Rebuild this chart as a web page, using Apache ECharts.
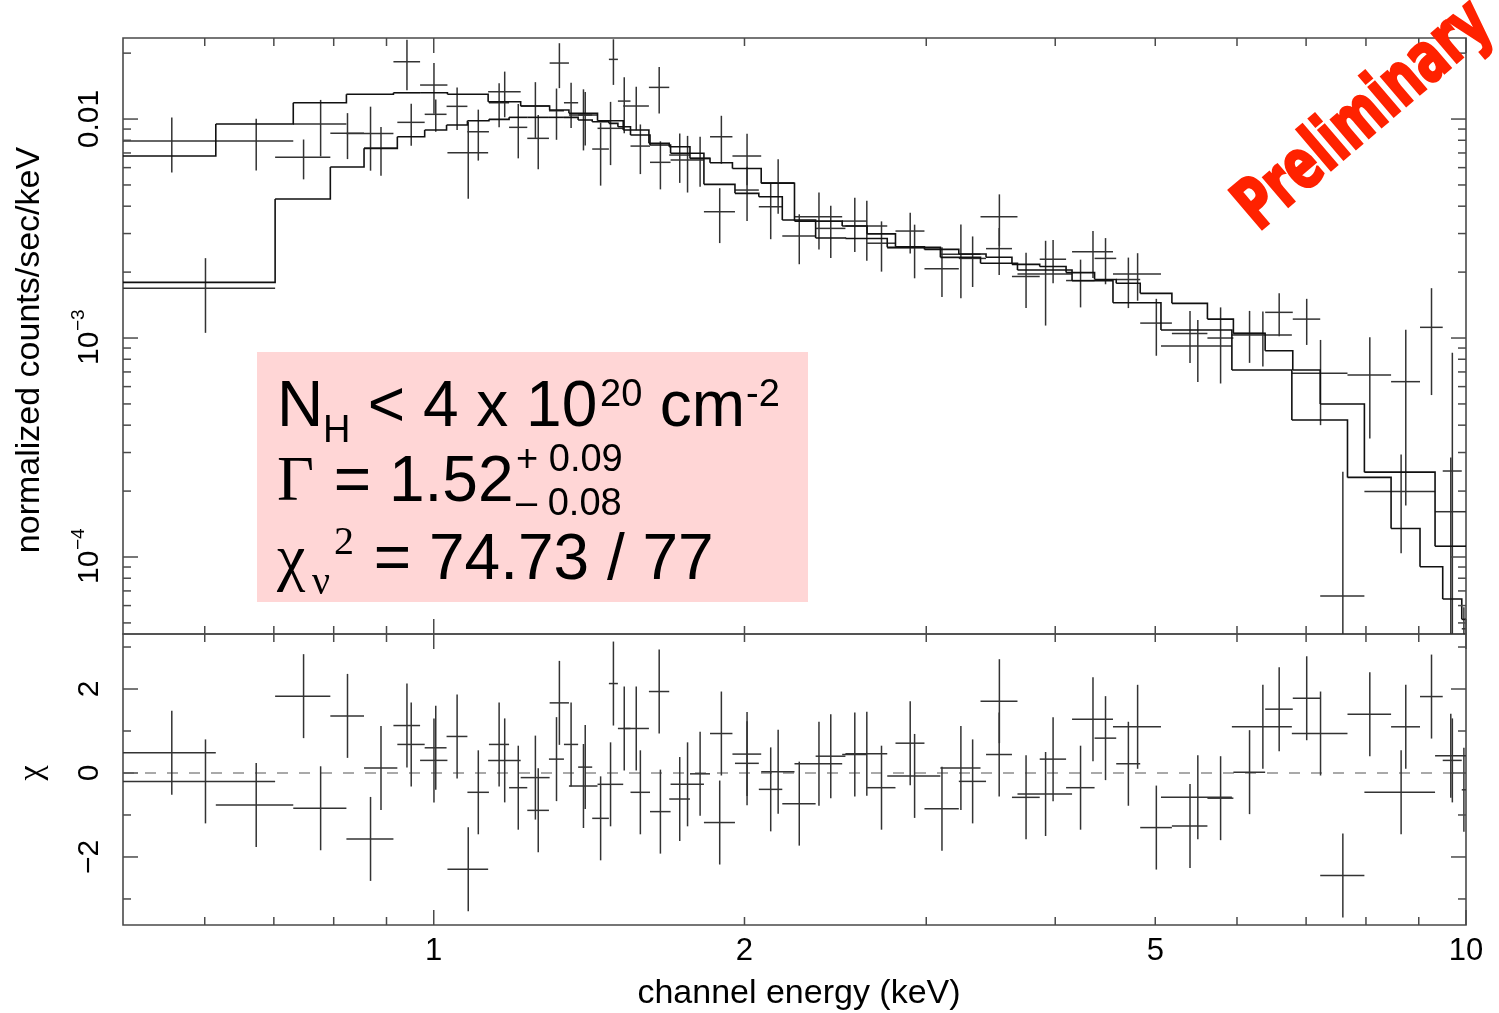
<!DOCTYPE html>
<html>
<head>
<meta charset="utf-8">
<script src="https://cdn.jsdelivr.net/npm/echarts/dist/echarts.min.js"></script>
<style>
html,body{margin:0;padding:0;background:#ffffff;}
#chart{width:1499px;height:1013px;}
</style>
</head>
<body>
<div id="chart"></div>
<script>
// ===== Data (energies in keV) =====
// Dataset A: bin edges, data (normalized counts/sec/keV), 1-sigma errors, model, residuals (chi)
const edgesA = [0.500,0.615,0.731,0.823,0.914,0.970,1.031,1.129,1.214,1.295,1.352,1.441,1.526,1.616,1.691,1.771,1.852,1.947,2.076,2.236,2.487,2.629,2.801,2.988,3.226,3.428,3.632,3.864,4.098,4.367,4.583,4.835,5.189,5.617,5.952,6.389,6.795,7.224,7.972,9.333,10.0];
const countsA = [0.00793,0.00793,0.00949,0.00860,0.01827,0.01430,0.00702,0.01333,0.01147,0.01802,0.01043,0.00907,0.01147,0.01395,0.00685,0.00661,0.00830,0.00678,0.00512,0.00358,0.00342,0.00271,0.00308,0.00207,0.00231,0.00256,0.00191,0.00229,0.00183,0.00231,0.00185,0.00117,0.00105,0.00100,0.00105,0.00131,0.00122,0.0000664,0.000199,0.000161];
const sigmaA = [0.00223,0.00211,0.00274,0.00279,0.00473,0.00373,0.00270,0.00314,0.00327,0.00418,0.00324,0.00291,0.00257,0.00334,0.00174,0.00170,0.00205,0.00179,0.00143,0.00104,0.00095,0.00070,0.00065,0.00053,0.00060,0.00062,0.00054,0.00051,0.00045,0.00055,0.00048,0.00034,0.00028,0.00038,0.00028,0.00029,0.00029,0.000179,0.000095,0.000124];
const modelA = [0.00678,0.00949,0.01187,0.01297,0.01318,0.01318,0.01297,0.01199,0.01147,0.01099,0.01062,0.00982,0.00891,0.00775,0.00747,0.00661,0.00632,0.00595,0.00509,0.00342,0.00325,0.00299,0.00261,0.00254,0.00242,0.00234,0.00217,0.00212,0.00199,0.00185,0.00178,0.00160,0.00144,0.00122,0.00105,0.000875,0.000714,0.000500,0.000244,0.000112];
const chiA = [0.48,-0.76,-0.84,-1.57,1.13,0.30,-2.29,0.30,-0.11,1.67,-0.31,-0.27,1.06,1.94,-0.62,-0.02,0.94,0.45,0.03,0.22,0.44,-0.35,0.71,-0.85,-0.20,0.44,-0.58,0.33,-0.35,0.83,0.22,-1.30,-1.26,-0.60,0.02,1.52,1.78,-2.44,-0.46,0.41];

// Dataset B
const edgesB = [0.500,0.702,0.794,0.856,0.922,0.980,1.029,1.078,1.131,1.183,1.232,1.293,1.337,1.380,1.424,1.478,1.508,1.551,1.620,1.696,1.827,1.958,2.065,2.176,2.344,2.505,2.750,3.096,3.386,3.677,4.153,4.550,5.064,5.932,6.781,7.677,8.461,9.025,9.494,9.906,10.0];
const countsB = [0.001686,0.006684,0.008603,0.007349,0.009659,0.01051,0.01143,0.008750,0.01187,0.009165,0.008164,0.01091,0.01187,0.01043,0.007295,0.01873,0.01208,0.007526,0.006344,0.006498,0.003774,0.004740,0.003977,0.002923,0.003167,0.003245,0.002584,0.002410,0.003580,0.001960,0.002478,0.001960,0.000919,0.001032,0.000690,0.000678,0.000632,0.001119,0.000247,0.000047];
const sigmaB = [0.00063,0.00138,0.00204,0.00184,0.00210,0.00176,0.00252,0.00229,0.00269,0.00255,0.00226,0.00287,0.00277,0.00285,0.00233,0.00441,0.00346,0.00192,0.00157,0.00188,0.00106,0.00132,0.00115,0.00075,0.00085,0.00099,0.00071,0.00089,0.00095,0.00082,0.00060,0.00048,0.00029,0.00029,0.00029,0.00033,0.00046,0.00057,0.00061,0.000012];
const modelB = [0.001796,0.004312,0.006036,0.007349,0.008302,0.008908,0.009389,0.009822,0.009968,0.01018,0.01018,0.01018,0.01018,0.009895,0.009721,0.009558,0.009223,0.008450,0.007607,0.006975,0.005032,0.004578,0.004417,0.003458,0.002862,0.002850,0.002595,0.002336,0.002194,0.002044,0.001826,0.001449,0.001088,0.000714,0.000422,0.000231,0.000135,0.0000903,0.0000643,0.0000519];
const chiB = [-0.20,1.83,1.36,0.12,0.68,0.60,0.87,-0.46,0.68,-0.35,-0.89,0.33,0.68,0.14,-1.08,2.13,1.06,-0.46,-0.92,-0.27,-1.18,0.23,-0.39,-0.73,0.40,0.46,-0.07,0.12,1.71,-0.50,1.28,1.10,-0.58,1.10,0.94,1.40,1.10,1.82,0.30,-0.40];

// Axis ranges and ticks
const xRange = [0.5, 10];
const yTopRange = [4.45e-5, 0.02345];
const chiRange = [-3.62, 3.31];
const xMajorTicks = [1, 10];
const xMinorTicks = [0.6,0.7,0.8,0.9,2,3,4,5,6,7,8,9];
const xLabelValues = [1, 2, 5, 10];
const xLabelTexts = ['1', '2', '5', '10'];
const yTopMajorTicks = [1e-4, 1e-3, 1e-2];
const yTopMinorTicks = [5e-5,6e-5,7e-5,8e-5,9e-5,2e-4,3e-4,4e-4,5e-4,6e-4,7e-4,8e-4,9e-4,2e-3,3e-3,4e-3,5e-3,6e-3,7e-3,8e-3,9e-3,2e-2];
const yTopLabelValues = [0.01, 1e-3, 1e-4];
const yTopLabelBase = ['0.01', '10', '10'];
const yTopLabelSup = ['', '\u22123', '\u22124'];
const chiMajorTicks = [-2, 0, 2];
const chiMinorTicks = [-3, -1, 1, 3];
const chiLabelValues = [2, 0, -2];
const chiLabelTexts = ['2', '0', '\u22122'];

// ===== Build series rows =====
const SANS = '"Liberation Sans", Arimo, Arial, Helvetica, sans-serif';
const SERIF = '"Liberation Serif", "DejaVu Serif", "Times New Roman", serif';
const INK = '#333333';

function topRows(edges, vals, sig) {
  return vals.map((v, i) => {
    const lo = edges[i], hi = edges[i + 1];
    return [lo, hi, (lo + hi) / 2, v, Math.max(v - sig[i], yTopRange[0] * 0.2), v + sig[i]];
  });
}
function resRows(edges, chi) {
  return chi.map((c, i) => {
    const lo = edges[i], hi = edges[i + 1];
    return [lo, hi, (lo + hi) / 2, c, c - 1, c + 1];
  });
}
function modelRows(edges, m) {
  return m.map((v, i) => [edges[i], edges[i + 1], v, i + 1 < m.length ? m[i + 1] : v]);
}

function crossRender(params, api) {
  const lo = api.value(0), hi = api.value(1), xc = api.value(2);
  const y = api.value(3), ylo = api.value(4), yhi = api.value(5);
  const a = api.coord([lo, y]), b = api.coord([hi, y]);
  const c = api.coord([xc, yhi]), d = api.coord([xc, ylo]);
  return {
    type: 'group',
    children: [
      { type: 'line', shape: { x1: a[0], y1: a[1], x2: b[0], y2: b[1] }, style: { stroke: INK, lineWidth: 1.5 } },
      { type: 'line', shape: { x1: c[0], y1: c[1], x2: d[0], y2: d[1] }, style: { stroke: INK, lineWidth: 1.5 } }
    ]
  };
}
function stepRender(params, api) {
  const lo = api.value(0), hi = api.value(1), m = api.value(2), mn = api.value(3);
  const p1 = api.coord([lo, m]), p2 = api.coord([hi, m]), p3 = api.coord([hi, mn]);
  return { type: 'polyline', shape: { points: [p1, p2, p3] }, style: { stroke: '#111', lineWidth: 1.6, fill: null } };
}

const dims6 = ['lo', 'hi', 'xc', 'y', 'ylo', 'yhi'];
function crossSeries(idx, rows) {
  return { type: 'custom', xAxisIndex: idx, yAxisIndex: idx, renderItem: crossRender, data: rows,
    dimensions: dims6, encode: { x: [0, 1, 2], y: [3, 4, 5] }, clip: true, silent: true, z: 3 };
}
function stepSeries(rows) {
  return { type: 'custom', xAxisIndex: 0, yAxisIndex: 0, renderItem: stepRender, data: rows,
    dimensions: ['lo', 'hi', 'm', 'mn'], encode: { x: [0, 1], y: [2, 3] }, clip: true, silent: true, z: 4 };
}

const chart = echarts.init(document.getElementById('chart'), null, { renderer: 'canvas' });

const option = {
  animation: false,
  backgroundColor: '#ffffff',
  grid: [
    { left: 123, top: 38, width: 1343, height: 596, show: true, borderColor: '#4a4a4a', borderWidth: 1.6, backgroundColor: 'transparent' },
    { left: 123, top: 634, width: 1343, height: 291, show: true, borderColor: '#4a4a4a', borderWidth: 1.6, backgroundColor: 'transparent' }
  ],
  xAxis: [
    { gridIndex: 0, type: 'log', logBase: 10, min: xRange[0], max: xRange[1], show: false },
    { gridIndex: 1, type: 'log', logBase: 10, min: xRange[0], max: xRange[1], show: false }
  ],
  yAxis: [
    { gridIndex: 0, type: 'log', logBase: 10, min: yTopRange[0], max: yTopRange[1], show: false },
    { gridIndex: 1, type: 'value', min: chiRange[0], max: chiRange[1], show: false }
  ],
  series: [
    stepSeries(modelRows(edgesA, modelA)),
    stepSeries(modelRows(edgesB, modelB)),
    crossSeries(0, topRows(edgesA, countsA, sigmaA)),
    crossSeries(0, topRows(edgesB, countsB, sigmaB)),
    {
      type: 'line', xAxisIndex: 1, yAxisIndex: 1, data: [[xRange[0], 0], [xRange[1], 0]],
      symbol: 'none', silent: true, z: 2,
      lineStyle: { color: '#555', width: 1.2, type: [11, 11] }
    },
    crossSeries(1, resRows(edgesA, chiA)),
    crossSeries(1, resRows(edgesB, chiB))
  ]
};
chart.setOption(option);

// ===== Frame ticks, labels, titles and annotations =====
function P(g, x, y) { return chart.convertToPixel({ xAxisIndex: g, yAxisIndex: g }, [x, y]); }
const els = [];
const TICK = '#4a4a4a';
function seg(x1, y1, x2, y2) {
  els.push({ type: 'line', silent: true, z: 50, shape: { x1, y1, x2, y2 }, style: { stroke: TICK, lineWidth: 1.5 } });
}
const xL = P(0, xRange[0], yTopRange[1])[0], xR = P(0, xRange[1], yTopRange[1])[0];
const yT = P(0, xRange[0], yTopRange[1])[1], yM = P(0, xRange[0], yTopRange[0])[1];
const yM2 = P(1, xRange[0], chiRange[1])[1], yB = P(1, xRange[0], chiRange[0])[1];
const MAJ = 15, MIN = 8;

[[xMajorTicks, MAJ], [xMinorTicks, MIN]].forEach(([arr, len]) => {
  arr.forEach(v => {
    const x = P(0, v, yTopRange[1])[0];
    seg(x, yT, x, yT + len); seg(x, yM, x, yM - len);
    seg(x, yM2, x, yM2 + len); seg(x, yB, x, yB - len);
  });
});
[[yTopMajorTicks, MAJ], [yTopMinorTicks, MIN]].forEach(([arr, len]) => {
  arr.forEach(v => {
    const y = P(0, xRange[0], v)[1];
    seg(xL, y, xL + len, y); seg(xR, y, xR - len, y);
  });
});
[[chiMajorTicks, MAJ], [chiMinorTicks, MIN]].forEach(([arr, len]) => {
  arr.forEach(v => {
    const y = P(1, xRange[0], v)[1];
    seg(xL, y, xL + len, y); seg(xR, y, xR - len, y);
  });
});

// x tick labels
xLabelValues.forEach((v, i) => {
  const x = P(1, v, 0)[0];
  els.push({ type: 'text', silent: true, z: 50, x: x, y: yB + 26,
    style: { text: xLabelTexts[i], fontSize: 31, fontFamily: SANS, fill: '#000', align: 'center', verticalAlign: 'middle' } });
});
// rotated y labels (top panel)
const LX = 90;
yTopLabelValues.forEach((v, i) => {
  const y = P(0, xRange[0], v)[1];
  const base = yTopLabelBase[i], sup = yTopLabelSup[i];
  const children = [];
  if (!sup) {
    children.push({ type: 'text', x: 0, y: 0, style: { text: base, fontSize: 30, fontFamily: SANS, fill: '#000', align: 'center', verticalAlign: 'middle' } });
  } else {
    children.push({ type: 'text', x: -27, y: 0, style: { text: base, fontSize: 30, fontFamily: SANS, fill: '#000', align: 'left', verticalAlign: 'middle' } });
    children.push({ type: 'text', x: 7, y: -11, style: { text: sup, fontSize: 19, fontFamily: SANS, fill: '#000', align: 'left', verticalAlign: 'middle' } });
  }
  els.push({ type: 'group', silent: true, z: 50, x: LX, y: y, rotation: Math.PI / 2, children });
});
// rotated chi labels
chiLabelValues.forEach((v, i) => {
  const y = P(1, xRange[0], v)[1];
  els.push({ type: 'text', silent: true, z: 50, x: LX, y: y, rotation: Math.PI / 2,
    style: { text: chiLabelTexts[i], fontSize: 30, fontFamily: SANS, fill: '#000', align: 'center', verticalAlign: 'middle' } });
});
// axis titles
els.push({ type: 'text', silent: true, z: 50, x: 799, y: 994,
  style: { text: 'channel energy (keV)', fontSize: 34, fontFamily: SANS, fill: '#000', align: 'center', verticalAlign: 'middle' } });
els.push({ type: 'text', silent: true, z: 50, x: 30, y: 350, rotation: Math.PI / 2,
  style: { text: 'normalized counts/sec/keV', fontSize: 34, fontFamily: SANS, fill: '#000', align: 'center', verticalAlign: 'middle' } });
els.push({ type: 'text', silent: true, z: 50, x: 32, y: 773, rotation: Math.PI / 2,
  style: { text: '\u03C7', fontSize: 34, fontFamily: SERIF, fill: '#000', align: 'center', verticalAlign: 'middle' } });

// fit-result box
els.push({ type: 'rect', silent: true, z: 60, shape: { x: 257, y: 352, width: 551, height: 250 }, style: { fill: '#FFD6D6' } });
function T(s, x, base, size, fam) {
  els.push({ type: 'text', silent: true, z: 61, x: x, y: base - 0.35 * size + 4,
    style: { text: s, fontSize: size, fontFamily: fam, fill: '#000', align: 'left', verticalAlign: 'middle' } });
}
T('N', 277, 427, 64, SANS);
T('H', 323, 441, 38, SANS);
T(' < 4 x 10', 350, 427, 64, SANS);
T('20', 600, 405, 38, SANS);
T(' cm', 642, 427, 64, SANS);
T('-2', 746, 405, 38, SANS);
T('\u0393', 277, 502, 64, SERIF);
T(' = 1.52', 316, 502, 64, SANS);
T('+ 0.09', 516, 470, 38, SANS);
T('\u2013 0.08', 516, 514, 38, SANS);
T('\u03C7', 277, 580, 64, SERIF);
T('\u03BD', 312, 593, 40, SERIF);
T('2', 334, 553, 40, SERIF);
T(' = 74.73 / 77', 356, 580, 64, SANS);

// Preliminary stamp
els.push({ type: 'text', silent: true, z: 70, x: 1365, y: 117, rotation: 40.5 * Math.PI / 180, scaleX: 0.76,
  style: { text: 'Preliminary', fontSize: 70, fontWeight: 'bold',
    fontFamily: '"DejaVu Sans Condensed", "Liberation Sans Narrow", "DejaVu Sans", sans-serif',
    fill: '#FF2200', stroke: '#FF2200', lineWidth: 2.5, align: 'center', verticalAlign: 'middle' } });

chart.setOption({ graphic: els });
</script>
</body>
</html>
